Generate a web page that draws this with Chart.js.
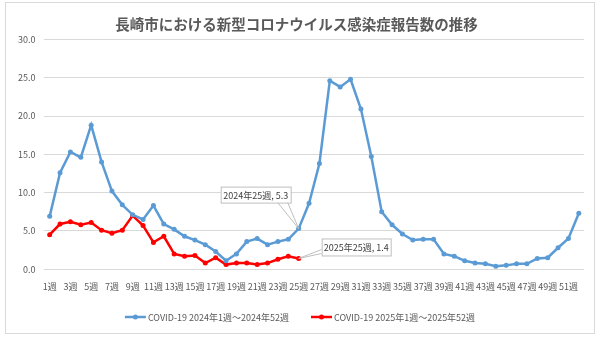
<!DOCTYPE html>
<html>
<head>
<meta charset="utf-8">
<script src="https://cdn.jsdelivr.net/npm/chart.js@4.4.1/dist/chart.umd.min.js"></script>
<style>
  html,body{margin:0;padding:0;background:#fff;}
  #wrap{position:relative;width:600px;height:339px;}
  #frame{position:absolute;left:5px;top:2px;width:590px;height:332px;border:1px solid #d9d9d9;box-sizing:border-box;pointer-events:none;}
</style>
</head>
<body>
<div id="wrap">
  <canvas id="c" width="600" height="339"></canvas>
  <div id="frame"></div>
</div>
<script>
const weeks = ['1週','2週','3週','4週','5週','6週','7週','8週','9週','10週','11週','12週','13週',
  '14週','15週','16週','17週','18週','19週','20週','21週','22週','23週','24週','25週','26週',
  '27週','28週','29週','30週','31週','32週','33週','34週','35週','36週','37週','38週','39週',
  '40週','41週','42週','43週','44週','45週','46週','47週','48週','49週','50週','51週','52週'];

const cases2024 = [6.9,12.6,15.3,14.6,18.8,14.0,10.2,8.4,7.1,6.5,
  8.3,5.9,5.2,4.3,3.8,3.2,2.3,1.1,2.0,3.6,
  4.0,3.2,3.6,3.9,5.3,8.6,13.8,24.6,23.8,24.8,
  20.9,14.7,7.5,5.8,4.6,3.8,3.9,3.9,2.0,1.7,
  1.1,0.8,0.7,0.4,0.5,0.7,0.7,1.4,1.5,2.8,
  4.0,7.3];

const cases2025 = [4.5,5.9,6.2,5.8,6.1,5.1,4.7,5.1,7.0,5.7,
  3.5,4.3,2.0,1.7,1.8,0.8,1.5,0.6,0.8,0.8,
  0.6,0.8,1.3,1.7,1.4];

const yTicks = [0, 5, 10, 15, 20, 25, 30];

const seriesNames = ['COVID-19 2024年1週〜2024年52週', 'COVID-19 2025年1週〜2025年52週'];
const calloutIndex = 24; // 25週

const FONT = '"Noto Sans CJK JP", "Noto Sans", sans-serif';

// callout labels (data labels in the original)
const callouts = {
  id: 'callouts',
  afterDatasetsDraw(chart){
    const ctx = chart.ctx;
    const p1 = chart.getDatasetMeta(0).data[calloutIndex];
    const p2 = chart.getDatasetMeta(1).data[calloutIndex];
    const t1 = '2024年' + weeks[calloutIndex] + ', ' + cases2024[calloutIndex].toFixed(1);
    const t2 = '2025年' + weeks[calloutIndex] + ', ' + cases2025[calloutIndex].toFixed(1);
    ctx.save();
    ctx.font = '9px ' + FONT;
    ctx.textBaseline = 'middle';
    ctx.lineWidth = 1;
    ctx.strokeStyle = '#bfbfbf';

    // box 1 above-left
    let bx = p1.x - 78, by = p1.y - 42, bw = 70, bh = 16;
    ctx.beginPath();
    ctx.moveTo(bx + 57, by + bh); ctx.lineTo(p1.x, p1.y);
    ctx.moveTo(bx + 67, by + bh); ctx.lineTo(p1.x, p1.y);
    ctx.stroke();
    ctx.fillStyle = '#fff';
    ctx.fillRect(bx, by, bw, bh);
    ctx.strokeRect(bx + 0.5, by + 0.5, bw, bh);
    ctx.fillStyle = '#404040';
    ctx.textAlign = 'center';
    ctx.fillText(t1, bx + bw / 2, by + bh / 2 + 0.5);

    // box 2 right
    bx = p2.x + 23; by = p2.y - 20; bw = 69; bh = 17;
    ctx.beginPath();
    ctx.moveTo(bx, by + 11); ctx.lineTo(p2.x, p2.y);
    ctx.moveTo(bx, by + 15); ctx.lineTo(p2.x, p2.y);
    ctx.stroke();
    ctx.fillStyle = '#fff';
    ctx.fillRect(bx, by, bw, bh);
    ctx.strokeRect(bx + 0.5, by + 0.5, bw, bh);
    ctx.fillStyle = '#404040';
    ctx.fillText(t2, bx + bw / 2, by + bh / 2 + 0.5);
    ctx.restore();
  }
};

// legend drawn by hand: line + marker, items centred under the plot
const bottomLegend = {
  id: 'bottomLegend',
  afterDraw(chart){
    const ctx = chart.ctx;
    const ds = chart.data.datasets;
    const lineW = 21, gap = 2, itemGap = 22;
    ctx.save();
    ctx.font = '9px ' + FONT;
    const widths = ds.map(d => ctx.measureText(d.label).width);
    const total = widths.reduce((s, w) => s + lineW + gap + w, 0) + itemGap * (ds.length - 1);
    let x = 300 - total / 2;
    const y = 317;
    ds.forEach((d, i) => {
      ctx.strokeStyle = d.borderColor;
      ctx.lineWidth = 2.5;
      ctx.beginPath();
      ctx.moveTo(x, y); ctx.lineTo(x + lineW, y);
      ctx.stroke();
      ctx.fillStyle = d.borderColor;
      ctx.beginPath();
      ctx.arc(x + lineW / 2, y, 2.5, 0, Math.PI * 2);
      ctx.fill();
      ctx.fillStyle = '#595959';
      ctx.textBaseline = 'middle';
      ctx.textAlign = 'left';
      ctx.fillText(d.label, x + lineW + gap, y + 0.5);
      x += lineW + gap + widths[i] + itemGap;
    });
    ctx.restore();
  }
};

new Chart(document.getElementById('c'), {
  type: 'line',
  data: {
    labels: weeks,
    datasets: [{
      label: seriesNames[0],
      data: cases2024,
      borderColor: '#5b9bd5',
      backgroundColor: '#5b9bd5',
      borderWidth: 2.5,
      pointRadius: 2.5,
      pointBorderWidth: 0,
      tension: 0
    },{
      label: seriesNames[1],
      data: cases2025,
      borderColor: '#ff0000',
      backgroundColor: '#ff0000',
      borderWidth: 2.5,
      pointRadius: 2.5,
      pointBorderWidth: 0,
      tension: 0
    }]
  },
  options: {
    responsive: false,
    animation: false,
    layout: { padding: { left: 9, right: 16, top: 10, bottom: 43 } },
    plugins: {
      title: {
        display: true,
        text: '長崎市における新型コロナウイルス感染症報告数の推移',
        color: '#595959',
        font: { family: FONT, size: 14.5, weight: 'bold' },
        padding: { top: 6, bottom: 6 }
      },
      legend: { display: false },
      tooltip: { enabled: false }
    },
    scales: {
      x: {
        offset: true,
        grid: { display: false },
        border: { display: false },
        ticks: {
          color: '#595959',
          font: { family: FONT, size: 9 },
          autoSkip: false,
          maxRotation: 0,
          padding: 4,
          callback: (v, i) => i % 2 === 0 ? weeks[i] : ''
        }
      },
      y: {
        min: yTicks[0],
        max: yTicks[yTicks.length - 1],
        afterBuildTicks: axis => { axis.ticks = yTicks.map(v => ({ value: v })); },
        grid: { color: '#d9d9d9', drawTicks: false },
        border: { display: false },
        ticks: {
          color: '#595959',
          font: { family: FONT, size: 9 },
          padding: 9,
          callback: v => Number(v).toFixed(1)
        }
      }
    }
  },
  plugins: [callouts, bottomLegend]
});
</script>
</body>
</html>
